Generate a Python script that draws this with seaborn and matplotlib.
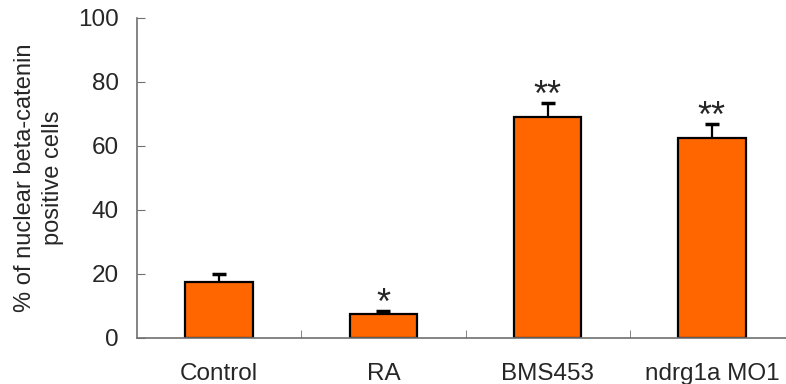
import pandas as pd
import matplotlib
matplotlib.use("Agg")
import matplotlib.pyplot as plt
import seaborn as sns

groups = ["Control", "RA", "BMS453", "ndrg1a MO1"]
means = [17.4, 7.5, 69.2, 62.4]
errors = [2.6, 0.9, 4.1, 4.4]
stars = ["", "*", "**", "**"]

def main():
    sns.set_style("white")
    plt.rcParams['font.family'] = ['Liberation Sans', 'DejaVu Sans']
    df = pd.DataFrame({"group": groups, "value": means, "err": errors})

    fig = plt.figure(figsize=(7.86, 3.84), dpi=100)
    ax = fig.add_axes([137 / 786, 46 / 384, 657 / 786, 320 / 384])
    sns.barplot(data=df, x="group", y="value", color="#FF6600", saturation=1,
                width=0.41, edgecolor="black", linewidth=1.6, errorbar=None, ax=ax)
    eb = ax.errorbar(range(len(groups)), df["value"], yerr=[[0] * len(errors), df["err"]],
                     fmt="none", ecolor="black", elinewidth=1.6, capsize=5, capthick=2.5)
    # only the upper cap is shown
    eb[1][0].set_visible(False)
    for i, s in enumerate(stars):
        if s:
            ax.text(i, means[i] + errors[i] - 3.4, s, ha="center", va="bottom",
                    fontsize=26)

    ax.set_xlim(-0.5, 3.5)
    ax.set_ylim(0, 100)
    ax.set_yticks([0, 20, 40, 60, 80, 100])
    ax.set_xticks([0.5, 1.5, 2.5], minor=True)
    ax.tick_params(axis="x", which="major", length=0, pad=18, labelsize=17.5)
    ax.tick_params(axis="x", which="minor", direction="in", length=6, color="#707070", bottom=True)
    ax.tick_params(axis="y", direction="in", length=6, color="#707070", pad=13, labelsize=17.5, left=True)
    for side in ["top", "right"]:
        ax.spines[side].set_visible(False)
    for side in ["left", "bottom"]:
        ax.spines[side].set_color("#707070")
        ax.spines[side].set_linewidth(1.2)
    ax.set_xlabel("")
    ax.set_ylabel("% of nuclear beta-catenin\npositive cells", fontsize=17, labelpad=10,
                  linespacing=1.4)

    fig.savefig("out.png", dpi=100)

if __name__ == "__main__":
    main()
